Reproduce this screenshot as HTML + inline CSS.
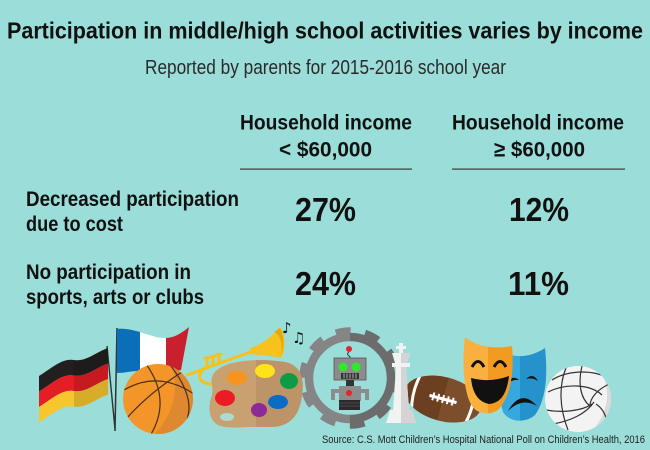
<!DOCTYPE html>
<html><head><meta charset="utf-8">
<style>
html,body{margin:0;padding:0;background:#9bddd8;}
svg{display:block;}
text{font-family:"Liberation Sans",Arial,sans-serif;fill:#111;}
.b{font-weight:bold;}
</style></head>
<body>
<svg width="650" height="450" viewBox="0 0 650 450" xmlns="http://www.w3.org/2000/svg">
<defs>
  <linearGradient id="gg" x1="0" y1="0" x2="1" y2="0">
    <stop offset="0.5" stop-color="#858585"/><stop offset="0.5" stop-color="#6c6c6c"/>
  </linearGradient>
  <clipPath id="ff"><path d="M117,329 C135,327 150,338 165,338 C175,338 183,332 189,327 L181,370 C172,372 160,375 150,372 C138,369 127,373 117,373 Z"/></clipPath>
  <clipPath id="bb"><circle cx="158" cy="399" r="35"/></clipPath>
  <clipPath id="pal"><path d="M215,372 C225,360 260,358 285,362 C300,365 305,378 302,395 C300,415 290,428 268,427 C245,426 230,430 218,425 C208,420 208,405 212,395 C214,385 208,380 215,372 Z"/></clipPath>
  <clipPath id="hm"><path d="M465,337 C475,345 490,350 512,346 C514,370 512,392 500,408 C492,416 478,415 472,406 C463,392 462,360 465,337 Z"/></clipPath>
  <clipPath id="sm"><path d="M502,352 C515,358 530,358 545,348 C548,375 546,400 535,415 C526,423 510,423 503,412 C498,395 500,370 502,352 Z"/></clipPath>
  <clipPath id="vb"><circle cx="578" cy="399" r="33"/></clipPath>
  <clipPath id="fb"><ellipse cx="443" cy="399" rx="39" ry="22"/></clipPath>
</defs>
<rect width="650" height="450" fill="#9bddd8"/>

<!-- Titles -->
<text class="b" x="7" y="38.3" font-size="23" textLength="636" lengthAdjust="spacingAndGlyphs">Participation in middle/high school activities varies by income</text>
<text x="145" y="74" font-size="20" textLength="361" lengthAdjust="spacingAndGlyphs" style="fill:#2a2a2a">Reported by parents for 2015-2016 school year</text>

<text class="b" x="240" y="129.3" font-size="21.5" textLength="172" lengthAdjust="spacingAndGlyphs">Household income</text>
<text class="b" x="279" y="156.7" font-size="21.5" textLength="93" lengthAdjust="spacingAndGlyphs">&lt; $60,000</text>
<text class="b" x="452" y="129.3" font-size="21.5" textLength="172" lengthAdjust="spacingAndGlyphs">Household income</text>
<text class="b" x="494" y="156.7" font-size="21.5" textLength="91" lengthAdjust="spacingAndGlyphs">≥ $60,000</text>
<rect x="240" y="168.5" width="172" height="1.2" fill="#3a3a3a"/>
<rect x="452" y="168.5" width="173" height="1.2" fill="#3a3a3a"/>

<text class="b" x="26" y="206" font-size="21" textLength="213" lengthAdjust="spacingAndGlyphs">Decreased participation</text>
<text class="b" x="26" y="231" font-size="21" textLength="97" lengthAdjust="spacingAndGlyphs">due to cost</text>
<text class="b" x="26" y="279" font-size="21" textLength="165" lengthAdjust="spacingAndGlyphs">No participation in</text>
<text class="b" x="26" y="304" font-size="21" textLength="178" lengthAdjust="spacingAndGlyphs">sports, arts or clubs</text>

<text class="b" x="295" y="221" font-size="33" textLength="61" lengthAdjust="spacingAndGlyphs">27%</text>
<text class="b" x="509" y="221" font-size="33" textLength="60" lengthAdjust="spacingAndGlyphs">12%</text>
<text class="b" x="295" y="295" font-size="33" textLength="61" lengthAdjust="spacingAndGlyphs">24%</text>
<text class="b" x="508" y="295" font-size="33" textLength="61" lengthAdjust="spacingAndGlyphs">11%</text>

<!-- German flag -->
<line x1="107" y1="346" x2="115" y2="429" stroke="#333" stroke-width="1.4"/>
<path d="M39,376 C52,368 62,358 74,360 C86,362 96,352 108,348 L108,363.5 C96,367.5 86,377.5 74,375.5 C62,373.5 52,383.5 39,391.5 Z" fill="#231f20"/>
<path transform="translate(0,15.5)" d="M39,376 C52,368 62,358 74,360 C86,362 96,352 108,348 L108,363.5 C96,367.5 86,377.5 74,375.5 C62,373.5 52,383.5 39,391.5 Z" fill="#e31e25"/>
<path transform="translate(0,31)" d="M39,376 C52,368 62,358 74,360 C86,362 96,352 108,348 L108,363.5 C96,367.5 86,377.5 74,375.5 C62,373.5 52,383.5 39,391.5 Z" fill="#f6c62e"/>
<path d="M74,360 C86,362 96,352 108,348 L108,394.5 C96,398.5 86,408.5 74,406.5 Z" fill="#000" opacity="0.13"/>

<!-- French flag -->
<line x1="117" y1="328" x2="115" y2="431" stroke="#333" stroke-width="1.5"/>
<g clip-path="url(#ff)">
  <rect x="117" y="320" width="23" height="60" fill="#0b6eb8"/>
  <rect x="140" y="320" width="26" height="60" fill="#ffffff"/>
  <rect x="166" y="320" width="25" height="60" fill="#c8202f"/>
</g>

<!-- Basketball -->
<circle cx="158" cy="399" r="35" fill="#f4952a"/>
<g clip-path="url(#bb)">
  <path d="M170,360 C182,392 172,416 150,440 L200,440 L200,360 Z" fill="#de8830"/>
  <g fill="none" stroke="#4a3018" stroke-width="1.2">
    <path d="M124,390 Q158,370 194,394"/>
    <path d="M146,364 Q172,400 150,436"/>
    <path d="M127,418 Q148,394 182,372"/>
    <path d="M170,365 Q202,405 180,432"/>
  </g>
</g>

<!-- Trumpet -->
<g fill="none" stroke="#f5c21b" stroke-width="3" stroke-linecap="round">
  <path d="M187,375 L253,351"/>
  <path d="M202,371 C194,380 206,388 226,382 L243,375"/>
  <path d="M207,367 L207,358 M213,365 L213,356 M219,363 L219,354"/>
  <path d="M204,358 L210,358 M210,356 L216,356 M216,354 L222,354" stroke-width="2"/>
</g>
<path d="M250,348 C262,345 272,336 280,327 C286,335 286,350 281,358 C272,356 262,355 250,354 Z" fill="#f6c21b"/>
<path d="M274,332 C283,336 283,352 280,357 C284,350 285,337 280,328 Z" fill="#e0a812"/>

<!-- Music notes -->
<text x="282" y="333" font-size="15" style="font-family:'DejaVu Sans',sans-serif;fill:#111">♪</text>
<text x="292" y="343" font-size="15" style="font-family:'DejaVu Sans',sans-serif;fill:#111">♫</text>

<!-- Gear -->
<circle cx="350" cy="378" r="47.5" fill="none" stroke="url(#gg)" stroke-width="6.5" stroke-dasharray="15 14.85"/>
<circle cx="350" cy="378" r="41" fill="none" stroke="url(#gg)" stroke-width="8.5"/>

<!-- Robot -->
<path d="M349,352 q-3,2 0,4 q2,1 0,3" fill="none" stroke="#333" stroke-width="1"/>
<circle cx="349" cy="349" r="3" fill="#e8232a"/>
<rect x="334" y="358" width="32" height="22" fill="#8c8c8c" stroke="#555" stroke-width="0.8"/>
<circle cx="343" cy="367" r="4.5" fill="#2fe92f"/>
<circle cx="356" cy="367" r="4.5" fill="#2fe92f"/>
<rect x="341" y="373" width="18" height="6" fill="#333"/>
<path d="M344,373.5 v5 M347,373.5 v5 M350,373.5 v5 M353,373.5 v5 M356,373.5 v5" stroke="#ccc" stroke-width="0.8"/>
<rect x="346" y="380" width="8" height="6" fill="#333"/>
<rect x="339" y="386" width="22" height="15" fill="#8c8c8c"/>
<circle cx="349" cy="393" r="3" fill="#e8232a"/>
<rect x="331" y="389" width="8" height="4" fill="#8c8c8c"/>
<rect x="331" y="393" width="4" height="7" fill="#8c8c8c"/>
<rect x="361" y="389" width="8" height="4" fill="#8c8c8c"/>
<rect x="365" y="393" width="4" height="7" fill="#8c8c8c"/>
<rect x="339" y="400" width="21" height="10" fill="#2a2a2a"/>
<path d="M339,403 h21 M339,406 h21" stroke="#555" stroke-width="0.8"/>

<!-- Football -->
<g transform="rotate(15 443 399)">
  <ellipse cx="443" cy="399" rx="39" ry="22" fill="#6c3f20"/>
  <g clip-path="url(#fb)">
    <rect x="443" y="370" width="45" height="60" fill="#7d4e2c"/>
    <path d="M416,378 Q410,399 416,420" fill="none" stroke="#fff" stroke-width="3"/>
    <path d="M470,378 Q476,399 470,420" fill="none" stroke="#fff" stroke-width="3"/>
  </g>
  <path d="M429,399 L457,399" stroke="#fff" stroke-width="3"/>
  <path d="M433,395 v8 M438,395 v8 M443,395 v8 M448,395 v8 M453,395 v8" stroke="#fff" stroke-width="2"/>
</g>

<!-- Chess king -->
<g>
  <rect x="399" y="343" width="4" height="10" fill="#f2f2f2"/>
  <rect x="396" y="346" width="10" height="3" fill="#f2f2f2"/>
  <path d="M392,353 L410,353 L407,363 L395,363 Z" fill="#f2f2f2"/>
  <rect x="392" y="363" width="18" height="4" fill="#f2f2f2"/>
  <path d="M396,367 L406,367 L409,410 L393,410 Z" fill="#f2f2f2"/>
  <path d="M390,410 L412,410 L416,423 L386,423 Z" fill="#f2f2f2"/>
  <path d="M401,353 L410,353 L407,363 L401,363 Z M401,367 L406,367 L409,410 L401,410 Z M401,410 L412,410 L416,423 L401,423 Z" fill="#d4d4d4"/>
</g>

<!-- Sad mask -->
<g clip-path="url(#sm)">
  <rect x="495" y="340" width="25" height="90" fill="#35a9df"/>
  <rect x="520" y="340" width="30" height="90" fill="#2592cb"/>
</g>
<path d="M507,384 Q512,374 519,380 Q513,379 507,384 Z" fill="#111"/>
<path d="M526,379 Q533,372 538,381 Q532,377 526,379 Z" fill="#111"/>
<path d="M508,411 Q521,388 537,406 Q522,397 508,411 Z" fill="#111"/>

<!-- Happy mask -->
<g clip-path="url(#hm)">
  <rect x="460" y="330" width="28" height="90" fill="#f9b03f"/>
  <rect x="488" y="330" width="30" height="90" fill="#f39b21"/>
</g>
<path d="M472,367 Q478,356 484,367" fill="none" stroke="#111" stroke-width="3"/>
<path d="M494,367 Q500,356 506,367" fill="none" stroke="#111" stroke-width="3"/>
<path d="M471,378 Q490,383 509,376 Q506,403 489,404 Q473,401 471,378 Z" fill="#111"/>

<!-- Volleyball -->
<circle cx="578" cy="399" r="33" fill="#f3f3f3"/>
<g clip-path="url(#vb)">
  <path d="M600,370 C615,395 605,425 580,440 L620,440 L620,370 Z" fill="#dadada"/>
  <g fill="none" stroke="#333" stroke-width="1.2">
    <path d="M552,380 C566,371 590,369 606,377"/>
    <path d="M548,392 C566,383 590,384 602,395"/>
    <path d="M566,368 C559,385 559,407 568,430"/>
    <path d="M582,366 C578,383 580,398 590,406"/>
    <path d="M546,410 C562,413 582,411 592,404"/>
    <path d="M553,424 C570,421 586,414 594,402"/>
    <path d="M609,384 C597,390 590,398 590,406"/>
    <path d="M596,404 C605,410 608,420 606,428"/>
  </g>
</g>

<!-- Palette (over trumpet) -->
<path d="M215,372 C225,360 260,358 285,362 C300,365 305,378 302,395 C300,415 290,428 268,427 C245,426 230,430 218,425 C208,420 208,405 212,395 C214,385 208,380 215,372 Z" fill="#c9a070"/>
<g clip-path="url(#pal)"><rect x="256" y="355" width="50" height="80" fill="#bd9467"/></g>
<ellipse cx="227" cy="417" rx="7" ry="4" fill="#a9dad3"/>
<ellipse cx="237" cy="378" rx="10" ry="7" fill="#f7941d"/>
<ellipse cx="265" cy="371" rx="10" ry="7" fill="#ffe21a"/>
<ellipse cx="289" cy="381" rx="9" ry="8" fill="#0e9b48"/>
<ellipse cx="225" cy="398" rx="10" ry="8" fill="#ed1c24"/>
<ellipse cx="278" cy="402" rx="10" ry="7" fill="#0b6cc6"/>
<ellipse cx="259" cy="410" rx="8" ry="7" fill="#8e2a97"/>

<!-- Source -->
<text x="322" y="443" font-size="11" textLength="323" lengthAdjust="spacingAndGlyphs" style="fill:#222">Source: C.S. Mott Children’s Hospital National Poll on Children’s Health, 2016</text>
</svg>
</body></html>
